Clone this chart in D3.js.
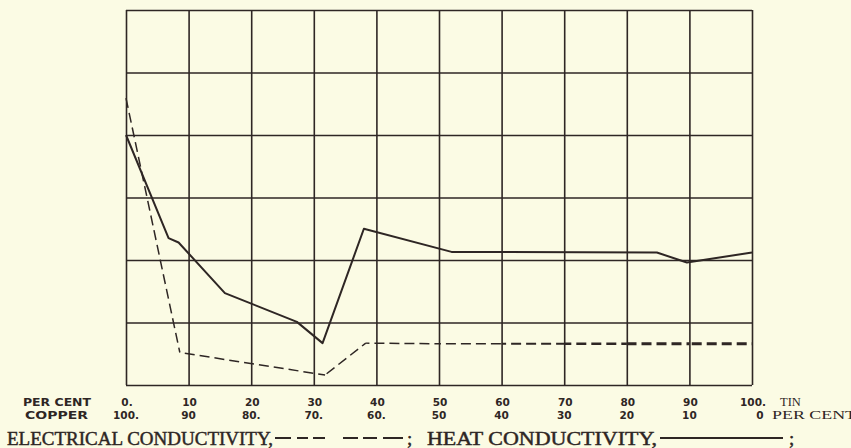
<!DOCTYPE html>
<html>
<head>
<meta charset="utf-8">
<script src="https://cdn.jsdelivr.net/npm/d3@7"></script>
<style>
  html, body { margin: 0; padding: 0; background: #fbfbe4; }
  svg { display: block; }
</style>
</head>
<body>
<svg id="chart" width="851" height="448"></svg>
<script>
// Percent tin (0–100) against conductivity, in grid units (0–6)
const electricalTin = [0, 8.6, 31.8, 38.3, 50, 60, 70, 80, 90, 100];
const electricalVal = [4.59, 0.52, 0.16, 0.67, 0.66, 0.66, 0.66, 0.66, 0.66, 0.66];

const heatTin = [0, 6.8, 8.4, 15.8, 27.3, 31.4, 38.0, 52.0, 84.8, 89.6, 100];
const heatVal = [4.0, 2.35, 2.28, 1.47, 1.01, 0.67, 2.50, 2.13, 2.12, 1.96, 2.12];

const tinLabels = ["0.", "10", "20", "30", "40", "50", "60", "70", "80", "90", "100."];
const copperLabels = ["100.", "90", "80.", "70.", "60.", "50", "40", "30", "20", "10", "0"];
const tickValues = [0, 10, 20, 30, 40, 50, 60, 70, 80, 90, 100];
const rowValues = [0, 1, 2, 3, 4, 5, 6];

const ink = "#2e2624";
const svg = d3.select("#chart");

const plotLeft = 126, plotRight = 752, plotTop = 10, plotBottom = 385;
const x = d3.scaleLinear().domain([0, 100]).range([plotLeft, plotRight]);
const y = d3.scaleLinear().domain([0, 6]).range([plotBottom, plotTop]);

// Grid: vertical lines every 10 %, horizontal lines every unit
const gx = svg.append("g")
  .attr("transform", `translate(0,${plotBottom})`)
  .call(d3.axisBottom(x).tickValues(tickValues).tickSize(-(plotBottom - plotTop)).tickFormat(""));
const gy = svg.append("g")
  .attr("transform", `translate(${plotLeft},0)`)
  .call(d3.axisLeft(y).tickValues(rowValues).tickSize(-(plotRight - plotLeft)).tickFormat(""));
[gx, gy].forEach(g => {
  g.select(".domain").remove();
  g.selectAll(".tick line").attr("stroke", ink).attr("stroke-width", 1.6);
});

// Heat conductivity: solid line
const heat = heatTin.map((t, i) => [t, heatVal[i]]);
svg.append("path")
  .datum(heat)
  .attr("fill", "none")
  .attr("stroke", ink)
  .attr("stroke-width", 2)
  .attr("stroke-linejoin", "round")
  .attr("d", d3.line().x(d => x(d[0])).y(d => y(d[1])));

// Electrical conductivity: dashed, drawn segment by segment so the pen grows heavier to the right
const elec = electricalTin.map((t, i) => [t, electricalVal[i]]);
const weight = d3.scaleLinear().domain([50, 85]).range([1.5, 3]).clamp(true);
let run = 0;
for (let i = 0; i < elec.length - 1; i++) {
  const a = elec[i], b = elec[i + 1];
  const x1 = x(a[0]), y1 = y(a[1]), x2 = x(b[0]), y2 = y(b[1]);
  svg.append("line")
    .attr("x1", x1).attr("y1", y1).attr("x2", x2).attr("y2", y2)
    .attr("stroke", ink)
    .attr("stroke-width", weight((a[0] + b[0]) / 2))
    .attr("stroke-dasharray", "10,5")
    .attr("stroke-dashoffset", -run);
  run += Math.hypot(x2 - x1, y2 - y1);
}

// Axis labels: tin on top row, copper beneath
const lab = svg.append("g")
  .attr("fill", ink)
  .attr("font-family", "'DejaVu Sans', sans-serif")
  .attr("font-weight", "bold")
  .attr("font-size", 10.5);

lab.selectAll("text.tin").data(tickValues).join("text")
  .attr("class", "tin")
  .attr("x", d => x(d) + 1)
  .attr("y", 406)
  .attr("text-anchor", "middle")
  .text((d, i) => tinLabels[i]);
lab.selectAll("text.cu").data(tickValues).join("text")
  .attr("class", "cu")
  .attr("x", (d, i) => x(d) + (i === tickValues.length - 1 ? 8 : 0))
  .attr("y", 419)
  .attr("text-anchor", "middle")
  .text((d, i) => copperLabels[i]);

lab.append("text").attr("x", 23).attr("y", 406).attr("textLength", 68).attr("lengthAdjust", "spacingAndGlyphs").text("PER CENT");
lab.append("text").attr("x", 25).attr("y", 419).attr("textLength", 63).attr("lengthAdjust", "spacingAndGlyphs").text("COPPER");
lab.append("text").attr("x", 780).attr("y", 406).attr("font-weight", "normal")
  .attr("font-family", "'Liberation Serif', serif").attr("font-size", 12.5).text("TIN");
lab.append("text").attr("x", 772).attr("y", 419).attr("font-weight", "normal")
  .attr("font-family", "'Liberation Serif', serif").attr("font-size", 12.5)
  .attr("textLength", 84).attr("lengthAdjust", "spacingAndGlyphs").text("PER CENT");

// Legend
const leg = svg.append("g")
  .attr("fill", ink)
  .attr("stroke", ink)
  .attr("stroke-width", 0.45)
  .attr("font-family", "'Liberation Serif', serif")
  .attr("font-size", 19);

leg.append("text").attr("x", 7).attr("y", 445)
  .attr("textLength", 266).attr("lengthAdjust", "spacingAndGlyphs")
  .text("ELECTRICAL CONDUCTIVITY,");
leg.append("line").attr("x1", 275).attr("x2", 404).attr("y1", 438).attr("y2", 438)
  .attr("stroke", ink).attr("stroke-width", 1.8).attr("stroke-dasharray", "16,6,11,5,12,18,15,5,14,6,20");
leg.append("text").attr("x", 407).attr("y", 445).text(";");

leg.append("text").attr("x", 427).attr("y", 445)
  .attr("textLength", 230).attr("lengthAdjust", "spacingAndGlyphs")
  .text("HEAT CONDUCTIVITY,");
leg.append("line").attr("x1", 660).attr("x2", 783).attr("y1", 438).attr("y2", 438)
  .attr("stroke", ink).attr("stroke-width", 1.8);
leg.append("text").attr("x", 789).attr("y", 445).text(";");
</script>
</body>
</html>
